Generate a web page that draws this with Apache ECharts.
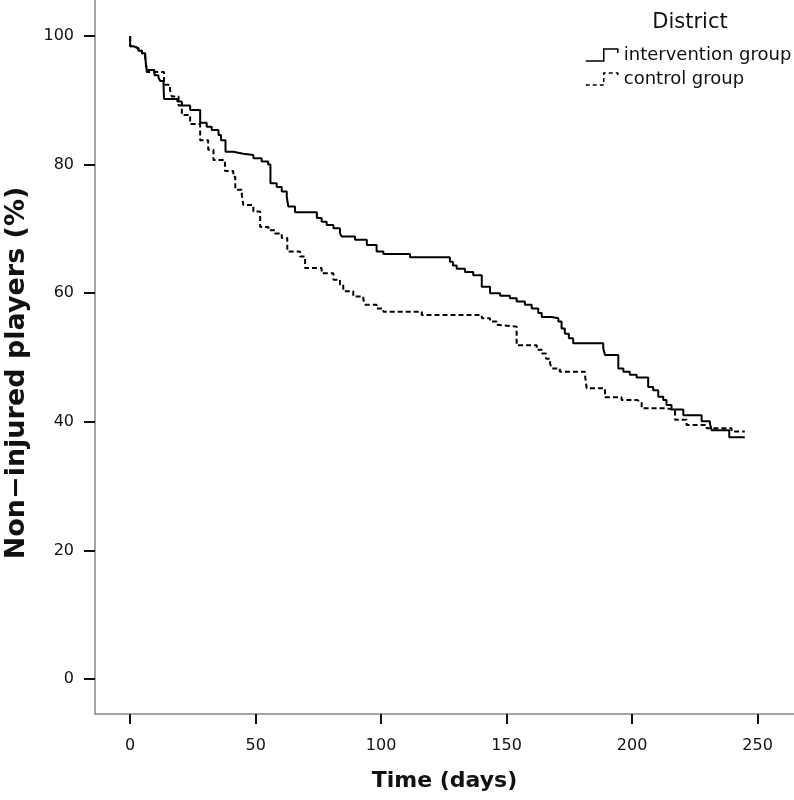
<!DOCTYPE html>
<html>
<head>
<meta charset="utf-8">
<script src="https://cdn.jsdelivr.net/npm/echarts@6/dist/echarts.min.js"></script>
<style>html,body{margin:0;padding:0;background:#fff}#c{width:794px;height:800px}</style>
</head>
<body>
<div id="c"></div>
<script>
// Kaplan-Meier steps: [day, % non-injured] (value after the event at that day)
var interventionDays = [0,0,1.3,3.3,4.7,6.0,6.6,9.7,11.3,12,13.3,13.5,18.8,20.6,23.9,27.9,30.5,32.5,35.2,36.2,38.0,41.1,45.1,49.1,52.4,55.0,55.9,58.4,60.4,62.4,63.0,65.7,74.4,76.3,78.3,81.0,83.6,84.3,89.6,94.3,98.2,100.9,111.5,127.4,128.6,130.1,133.4,136.7,140.1,143.4,147.4,151.3,154.0,157.3,160.0,162.6,164.0,167.9,170.6,171.9,173.2,174.8,176.5,188.5,189.2,194.5,196.5,199.1,201.8,206.4,208.4,210.4,212.4,213.7,215.7,220.4,227.7,231.0,231.7,238.7,244.9];
var interventionPct = [100,98.4,98.1,97.7,97.3,96.7,94.7,93.9,93.5,93.0,92.5,90.2,89.8,89.2,88.5,86.5,85.9,85.4,84.6,83.8,82.0,81.7,81.5,81.0,80.5,80.0,77.1,76.5,75.8,75.0,73.5,72.6,71.7,71.1,70.6,70.1,69.3,68.8,68.3,67.5,66.5,66.1,65.6,64.9,64.3,63.8,63.3,62.8,61.0,60.0,59.6,59.2,58.7,58.2,57.6,56.9,56.3,56.1,55.6,54.5,53.7,53.0,52.2,51.4,50.4,48.3,47.8,47.3,46.9,45.4,44.9,43.9,43.4,42.6,41.9,41.0,40.1,39.7,38.7,37.6,37.6];

var controlDays = [0,0,1.3,3.3,4.7,6.0,6.6,13.5,15.9,16.6,19.3,20.6,23.9,27.9,31.1,33.2,37.8,41.1,41.9,44.5,45.1,49.1,51.8,55.1,57.7,60.4,62.6,67.7,69.7,76.3,81.0,83.6,84.9,88.9,92.9,93.6,98.2,100.9,116.2,140.1,143.4,146.0,146.7,154.0,162.0,164.0,165.7,167.3,167.9,171.2,181.2,181.9,189.2,195.8,201.8,203.8,213.7,217.1,221.7,229.7,239.6,244.9];
var controlPct = [100,98.4,98.1,97.7,97.3,96.7,94.4,92.4,91.6,90.6,89.2,87.7,86.3,83.8,82.3,80.7,79.0,78.1,76.1,75.3,73.7,72.7,70.3,69.8,69.3,68.6,66.5,65.7,63.9,63.1,62.1,61.3,60.3,59.5,59.0,58.2,57.6,57.1,56.6,56.1,55.6,55.1,54.8,51.9,51.2,50.6,49.8,49.1,48.3,47.8,47.3,45.2,43.8,43.4,43.1,42.1,41.8,40.3,39.5,39.0,38.5,38.5];

var xTicks = [0,50,100,150,200,250];
var yTicks = [0,20,40,60,80,100];
var seriesNames = ['intervention group','control group'];
var legendTitle = 'District';
var xTitle = 'Time (days)';
var yTitle = 'Non\u2212injured players (%)';

function pairs(xs, ys){ return xs.map(function(x,i){ return [x, ys[i]]; }); }

var FONT = 'DejaVu Sans';
var chart = echarts.init(document.getElementById('c'), null, {renderer:'canvas'});
var stepIcon = 'path://M0,12 L18,12 L18,0 L32,0 L32,4';
chart.setOption({
  animation: false,
  backgroundColor: '#fff',
  title: {
    text: legendTitle, left: 690, top: 12, textAlign: 'center', padding: 0,
    textStyle: {fontFamily: FONT, fontSize: 21, fontWeight: 'normal', color: '#111'}
  },
  legend: {
    orient: 'vertical', left: 585, top: 46, padding: 0,
    itemWidth: 34, itemHeight: 12, itemGap: 6,
    textStyle: {fontFamily: FONT, fontSize: 18, color: '#111', lineHeight: 18},
    data: [
      {name: seriesNames[0], icon: stepIcon, itemStyle: {color: 'transparent', borderColor: '#000', borderWidth: 1.5, borderType: 'solid'}},
      {name: seriesNames[1], icon: stepIcon, itemStyle: {color: 'transparent', borderColor: '#000', borderWidth: 1.5, borderType: [4,3]}}
    ]
  },
  grid: {left: 95, right: 0, top: 0, bottom: 86, containLabel: false, outerBoundsMode: 'none'},
  xAxis: {
    type: 'value', min: -14, max: 264.5,
    name: xTitle, nameLocation: 'middle', nameGap: 56,
    nameTextStyle: {fontFamily: FONT, fontSize: 22, fontWeight: 'bold', color: '#111'},
    axisLine: {show: true, onZero: false, lineStyle: {color: '#888', width: 1.5}},
    axisTick: {show: true, customValues: xTicks, length: 10, lineStyle: {color: '#111', width: 2}},
    axisLabel: {customValues: xTicks, margin: 24, fontFamily: FONT, fontSize: 16, color: '#111'},
    splitLine: {show: false}
  },
  yAxis: {
    type: 'value', min: -5.45, max: 105.6,
    name: yTitle, nameLocation: 'middle', nameGap: 65, nameRotate: 90,
    nameTextStyle: {fontFamily: FONT, fontSize: 27, fontWeight: 'bold', color: '#111', padding: [0, 32, 0, 0]},
    axisLine: {show: true, onZero: false, lineStyle: {color: '#888', width: 1.5}},
    axisTick: {show: true, customValues: yTicks, length: 11, lineStyle: {color: '#111', width: 2}},
    axisLabel: {customValues: yTicks, margin: 21, fontFamily: FONT, fontSize: 16, color: '#111'},
    splitLine: {show: false}
  },
  series: [
    {name: seriesNames[0], type: 'line', step: 'end', symbol: 'none', data: pairs(interventionDays, interventionPct),
     lineStyle: {color: '#000', width: 2, type: 'solid'}, itemStyle: {color: '#000'}},
    {name: seriesNames[1], type: 'line', step: 'end', symbol: 'none', data: pairs(controlDays, controlPct),
     lineStyle: {color: '#000', width: 2, type: [5,3]}, itemStyle: {color: '#000'}}
  ]
});
</script>
</body>
</html>
